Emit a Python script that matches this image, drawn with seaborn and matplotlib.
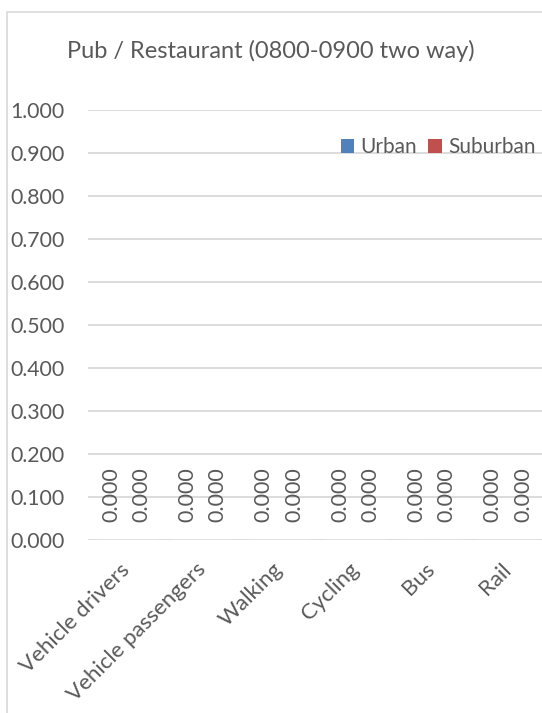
import matplotlib
matplotlib.use("Agg")
import matplotlib.pyplot as plt
import seaborn as sns
import pandas as pd
from matplotlib.patches import Rectangle, Patch

# ---- data ----
categories = ["Vehicle drivers", "Vehicle passengers", "Walking", "Cycling", "Bus", "Rail"]
urban = [0.0, 0.0, 0.0, 0.0, 0.0, 0.0]
suburban = [0.0, 0.0, 0.0, 0.0, 0.0, 0.0]
series_names = ["Urban", "Suburban"]
yticks = [0.0, 0.1, 0.2, 0.3, 0.4, 0.5, 0.6, 0.7, 0.8, 0.9, 1.0]
title = "Pub / Restaurant (0800-0900 two way)"

df = pd.DataFrame({
    "mode": categories * 2,
    "value": urban + suburban,
    "area": [series_names[0]] * len(categories) + [series_names[1]] * len(categories),
})

sns.set_theme(style="white")
plt.rcParams["font.family"] = ["Lato", "DejaVu Sans"]
TXT = "#595959"
GRID = "#d9d9d9"
colors = ["#4F81BD", "#C0504D"]

W, H = 542, 713
fig = plt.figure(figsize=(W / 100, H / 100), dpi=100)
ax = fig.add_axes([88 / W, 1 - 540 / H, 458 / W, 430 / H])

sns.barplot(data=df, x="mode", y="value", hue="area", palette=colors,
            width=0.8, ax=ax, legend=False, saturation=1)

ax.set_ylim(0, 1.0)
ax.set_xlim(-0.5, len(categories) - 0.5)
ax.set_yticks(yticks)
ax.set_yticklabels([f"{v:.3f}" for v in yticks], color=TXT, fontsize=15.3)
ax.yaxis.grid(True, color=GRID, linewidth=1.3)
ax.set_axisbelow(True)
for s in ax.spines.values():
    s.set_visible(False)
ax.tick_params(axis="both", length=0)
ax.tick_params(axis="y", pad=17)
ax.tick_params(axis="x", pad=19)
ax.set_xlabel("")
ax.set_ylabel("")
ax.set_xticks(range(len(categories)))
ax.set_xticklabels(categories, rotation=45, ha="right", va="center",
                   rotation_mode="anchor", color=TXT, fontsize=16)

for cont in ax.containers:
    ax.bar_label(cont, fmt="%.3f", rotation=90, padding=13, color=TXT, fontsize=15.5)

fig.text(271 / W, 1 - 51 / H, title, ha="center", va="center", color=TXT, fontsize=17)

handles = [Patch(facecolor=c, edgecolor="none") for c in colors]
fig.legend(handles, series_names, loc="center", bbox_to_anchor=(438 / W, 1 - 147 / H),
           ncol=2, frameon=False, fontsize=15, labelcolor=TXT, handlelength=0.66,
           handleheight=0.66, handletextpad=0.3, columnspacing=0.5, borderpad=0)

fig.patches.append(Rectangle((7 / W, -0.1), 1.2, 1 - 12 / H + 0.1, transform=fig.transFigure,
                             fill=False, edgecolor=GRID, linewidth=1.2))

fig.savefig("out.png", dpi=100)
